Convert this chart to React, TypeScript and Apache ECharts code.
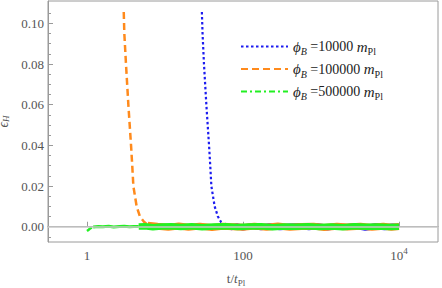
import React, { useEffect, useRef } from "react";
import * as echarts from "echarts";

// ---- data ----
const legendNames = ["10000", "100000", "500000"];

const blueT = [29.7, 30.3, 31.6, 33.9, 36.7, 38.1, 39.3, 43.3, 47.7, 52.5, 58];
const blueEps = [0.1056, 0.095, 0.08, 0.06, 0.04, 0.0295, 0.02, 0.01, 0.005, 0.0022, 0.001];

const orangeT = [2.96, 3.01, 3.16, 3.39, 3.67, 3.81, 3.93, 4.33, 4.77, 5.37, 6.0];
const orangeEps = [0.1056, 0.095, 0.08, 0.06, 0.04, 0.0295, 0.02, 0.01, 0.005, 0.0025, 0.001];

const greenT = [1.0, 1.05, 1.1, 1.2];
const greenEps = [-0.0021, -0.0015, -0.0008, -0.0002];

// noisy tails (hand-read band around zero)
const blueTailT = [58, 70, 85, 100, 130, 170, 220, 300, 400, 520, 700, 900, 1200, 1600, 2100, 2800, 3700, 5000, 6500, 8200, 10000];
const blueTailEps = [0.0005, -0.0002, 0.0002, -0.0004, 0.0003, -0.0002, 0.0002, -0.0003, 0.0001, 0.0003, -0.0002, 0.0002, -0.0004, 0.0002, -0.0001, 0.0003, -0.0005, 0.0002, -0.0003, 0.0001, 0.0000];

const orangeTailT = [6, 8, 11, 15, 20, 28, 40, 55, 75, 100, 140, 200, 280, 400, 560, 800, 1100, 1600, 2200, 3200, 4500, 6300, 8000, 10000];
const orangeTailEps = [0.0008, 0.0002, -0.0003, 0.0004, -0.0002, 0.0003, -0.0004, 0.0002, 0.0000, -0.0003, 0.0003, -0.0002, 0.0004, -0.0003, 0.0001, 0.0003, -0.0004, 0.0002, -0.0001, 0.0003, -0.0003, 0.0002, -0.0002, 0.0001];

const greenEarlyT = [1.2, 1.4, 1.6, 1.9, 2.2, 2.6, 3.0, 3.5, 4.0, 4.6];
const greenEarlyEps = [-0.0001, 0.0001, 0.0000, 0.0002, -0.0001, 0.0001, 0.0002, 0.0000, 0.0001, 0.0001];

const greenLateT = [4.6, 5.5, 7, 9, 12, 16, 22, 30, 42, 60, 85, 120, 170, 240, 340, 480, 680, 950, 1350, 1900, 2700, 3800, 5300, 7500, 10000];
const greenLateEps = [0.0001, 0.0002, -0.0002, 0.0001, 0.0003, -0.0001, 0.0002, -0.0002, 0.0001, 0.0002, -0.0001, 0.0001, 0.0002, -0.0002, 0.0001, 0.0000, 0.0002, -0.0001, 0.0001, -0.0002, 0.0002, 0.0000, 0.0001, -0.0001, 0.0000];

const xTicks = [1, 100, 10000];
const yMajor = [0, 0.02, 0.04, 0.06, 0.08, 0.1];
const yMinor = [-0.005, 0.005, 0.01, 0.015, 0.025, 0.03, 0.035, 0.045, 0.05, 0.055, 0.065, 0.07, 0.075, 0.085, 0.09, 0.095, 0.105];

const BLUE = "#1c1cf0";
const ORANGE = "#ff8a1c";
const GREEN = "#22f022";
const SERIF = "Liberation Serif";
const LABEL = "#555";

const zip = (a: number[], b: number[]) => a.map((v, i) => [v, b[i]]);

export default function App() {
  const ref = useRef<HTMLDivElement>(null);
  useEffect(() => {
    if (!ref.current) return;
    const chart = echarts.init(ref.current, null, { renderer: "svg" });
    const lineBase = { type: "line", symbol: "none", showSymbol: false, silent: true };
    const option: any = {
      animation: false,
      textStyle: { fontFamily: SERIF },
      grid: {
        left: 48, right: 4, top: 1, bottom: 46,
        outerBoundsMode: "none", containLabel: false,
        show: true, borderColor: "#9a9a9a", borderWidth: 1, backgroundColor: "transparent",
      },
      legend: {
        data: legendNames,
        orient: "vertical",
        left: 240,
        top: 39,
        padding: 0,
        itemWidth: 47,
        itemHeight: 14,
        itemGap: 5,
        itemStyle: { color: "transparent", borderWidth: 0, opacity: 0 },
        formatter: (n: string) => `{i|ϕ}{sub|B}{t| =${n} }{i|m}{sub2|Pl}`,
        textStyle: {
          fontFamily: SERIF,
          fontSize: 14,
          color: "#222",
          rich: {
            i: { fontFamily: SERIF, fontStyle: "italic", fontSize: 15, color: "#222", lineHeight: 20, verticalAlign: "middle" },
            sub: { fontFamily: SERIF, fontStyle: "italic", fontSize: 10, color: "#222", lineHeight: 20, verticalAlign: "bottom" },
            sub2: { fontFamily: SERIF, fontSize: 10, color: "#222", lineHeight: 20, verticalAlign: "bottom" },
            t: { fontFamily: SERIF, fontSize: 14, color: "#222", lineHeight: 20, verticalAlign: "middle" },
          },
        },
      },
      xAxis: {
        type: "log",
        logBase: 10,
        min: Math.pow(10, -0.5),
        max: Math.pow(10, 4.5),
        axisLine: { lineStyle: { color: "#9a9a9a" } },
        axisTick: { inside: true, length: 5, customValues: xTicks, lineStyle: { color: "#9a9a9a" } },
        splitLine: { show: false },
        minorTick: { show: false },
        axisLabel: {
          customValues: xTicks,
          margin: 4,
          fontFamily: SERIF,
          fontSize: 13,
          color: LABEL,
          formatter: (v: number) => {
            if (Math.abs(v - 1) < 1e-6) return "{b|1}";
            if (Math.abs(v - 100) < 1e-4) return "{b|100}";
            if (Math.abs(v - 10000) < 1e-2) return "{b|10}{sup|4}";
            return "";
          },
          rich: {
            b: { fontFamily: SERIF, fontSize: 13, color: LABEL, lineHeight: 16, verticalAlign: "bottom" },
            sup: { fontFamily: SERIF, fontSize: 9, color: LABEL, lineHeight: 16, verticalAlign: "top" },
          },
        },
        name: "{r|t/}{i|t}{sub|Pl}",
        nameLocation: "middle",
        nameGap: 27,
        nameTextStyle: {
          padding: [0, 14, 0, 0],
          rich: {
            r: { fontFamily: SERIF, fontSize: 13, color: LABEL, lineHeight: 18, verticalAlign: "middle" },
            i: { fontFamily: SERIF, fontStyle: "italic", fontSize: 13, color: LABEL, lineHeight: 18, verticalAlign: "middle" },
            sub: { fontFamily: SERIF, fontSize: 9, color: LABEL, lineHeight: 18, verticalAlign: "bottom" },
          },
        },
      },
      yAxis: [
        {
          type: "value",
          min: -0.0075,
          max: 0.111,
          axisLine: { show: true, lineStyle: { color: "#9a9a9a" } },
          axisTick: { inside: true, length: 5, customValues: yMajor, lineStyle: { color: "#9a9a9a" } },
          splitLine: { show: false },
          axisLabel: {
            customValues: yMajor,
            margin: 4,
            fontFamily: SERIF,
            fontSize: 13,
            color: LABEL,
            formatter: (v: number) => `{n|${v.toFixed(2)}}`,
            rich: { n: { fontFamily: SERIF, fontSize: 13, color: LABEL } },
          },
          name: "{i|ϵ}{sub|H}",
          nameLocation: "middle",
          nameRotate: 90,
          nameGap: 31,
          nameTextStyle: {
            rich: {
              i: { fontFamily: SERIF, fontStyle: "italic", fontSize: 14, color: LABEL, lineHeight: 14, verticalAlign: "middle" },
              sub: { fontFamily: SERIF, fontStyle: "italic", fontSize: 9, color: LABEL, lineHeight: 14, verticalAlign: "bottom" },
            },
          },
        },
        {
          type: "value",
          min: -0.0075,
          max: 0.111,
          position: "left",
          axisLine: { show: false },
          axisTick: { show: true, inside: true, length: 3, customValues: yMinor, lineStyle: { color: "#9a9a9a" } },
          splitLine: { show: false },
          axisLabel: { show: false },
        },
      ],
      series: [
        {
          ...lineBase,
          name: "zero",
          data: [],
          markLine: {
            silent: true,
            symbol: "none",
            label: { show: false },
            lineStyle: { color: "#c8c8c8", width: 1.5, type: "solid" },
            data: [{ yAxis: 0 }],
          },
        },
        { ...lineBase, name: "10000", data: zip(blueT, blueEps), lineStyle: { color: BLUE, width: 2.2, type: [2.5, 2.5] }, itemStyle: { color: BLUE } },
        { ...lineBase, name: "blueTail", data: zip(blueTailT, blueTailEps), lineStyle: { color: BLUE, width: 6, type: "solid" } },
        { ...lineBase, name: "100000", data: zip(orangeT, orangeEps), lineStyle: { color: ORANGE, width: 2.5, type: [7, 4] }, itemStyle: { color: ORANGE } },
        { ...lineBase, name: "orangeTail", data: zip(orangeTailT, orangeTailEps), lineStyle: { color: ORANGE, width: 7, type: "solid" } },
        { ...lineBase, name: "500000", data: zip(greenT, greenEps), lineStyle: { color: GREEN, width: 2.5, type: [6, 3, 2, 3] }, itemStyle: { color: GREEN } },
        { ...lineBase, name: "greenEarly", data: zip(greenEarlyT, greenEarlyEps), lineStyle: { color: GREEN, width: 3, type: "solid" } },
        { ...lineBase, name: "greenLate", data: zip(greenLateT, greenLateEps), lineStyle: { color: GREEN, width: 6.5, type: "solid" } },
      ],
    };
    chart.setOption(option);
    return () => chart.dispose();
  }, []);
  return <div ref={ref} style={{ position: "absolute", left: 0, top: 0, width: 442, height: 288 }} />;
}
